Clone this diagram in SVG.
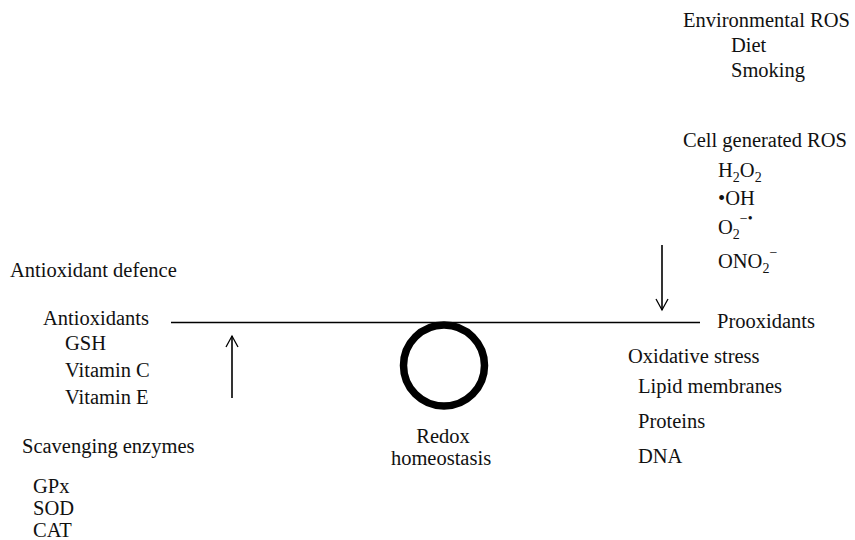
<svg xmlns="http://www.w3.org/2000/svg" width="855" height="540" viewBox="0 0 855 540" font-family="'Liberation Serif', 'Times New Roman', 'DejaVu Serif', serif">
<style>
text{font-family:'Liberation Serif','Times New Roman',serif;font-size:20.5px;fill:#111}
.sm{font-size:14px}
.ln{stroke:#000;stroke-width:1.6;fill:none}
</style>
<defs>
<marker id="ah" viewBox="0 0 14 14" refX="12" refY="7" markerWidth="14" markerHeight="14" markerUnits="userSpaceOnUse" orient="auto">
<path d="M1,1 L12,7 L1,13" fill="none" stroke="#000" stroke-width="1.3"/>
</marker>
</defs>
<rect width="855" height="540" fill="#fff"/>
<g id="connectors">
<line class="ln" x1="171" y1="322.5" x2="700" y2="322.5"/>
<line class="ln" x1="662" y1="245" x2="662" y2="310" marker-end="url(#ah)"/>
<line class="ln" x1="232" y1="398" x2="232" y2="336" marker-end="url(#ah)"/>
</g>
<g id="env">
<text x="683" y="27">Environmental ROS</text>
<text x="731" y="52">Diet</text>
<text x="731" y="77">Smoking</text>
</g>
<g id="cell">
<text x="683" y="147">Cell generated ROS</text>
<text x="718" y="177">H<tspan class="sm" dy="5">2</tspan><tspan dy="-5">O</tspan><tspan class="sm" dy="5">2</tspan></text>
<text x="718" y="205">•OH</text>
<text x="718" y="234">O<tspan class="sm" dy="5">2</tspan><tspan class="sm" dy="-16">−•</tspan></text>
<text x="718" y="268">ONO<tspan class="sm" dy="5">2</tspan><tspan class="sm" dy="-16">−</tspan></text>
</g>
<g id="prooxidants">
<text x="717" y="328">Prooxidants</text>
</g>
<g id="defence">
<text x="10" y="277">Antioxidant defence</text>
</g>
<g id="antioxidants">
<text x="43" y="325">Antioxidants</text>
<text x="65" y="350">GSH</text>
<text x="65" y="377">Vitamin C</text>
<text x="65" y="404">Vitamin E</text>
</g>
<g id="redox">
<circle cx="444" cy="365.5" r="40.5" fill="none" stroke="#000" stroke-width="7.5"/>
<text x="443" y="443" text-anchor="middle">Redox</text>
<text x="441" y="465" text-anchor="middle">homeostasis</text>
</g>
<g id="oxidative">
<text x="628" y="363">Oxidative stress</text>
<text x="638" y="393">Lipid membranes</text>
<text x="638" y="428">Proteins</text>
<text x="638" y="463">DNA</text>
</g>
<g id="scavenging">
<text x="22" y="453">Scavenging enzymes</text>
<text x="33" y="493">GPx</text>
<text x="33" y="515">SOD</text>
<text x="33" y="537">CAT</text>
</g>
</svg>
